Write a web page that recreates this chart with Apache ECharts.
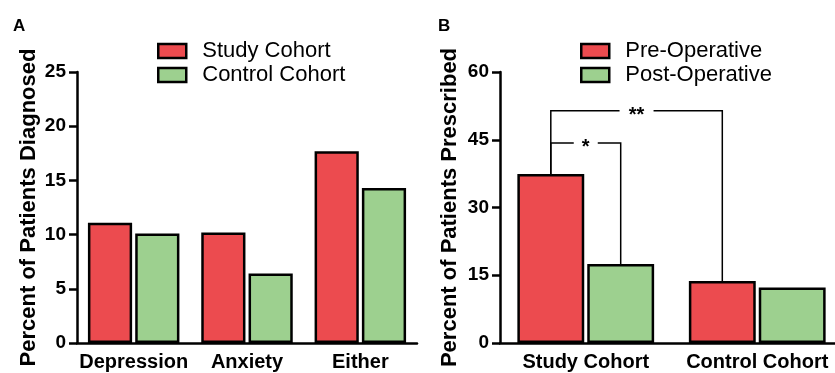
<!DOCTYPE html>
<html>
<head>
<meta charset="utf-8">
<script src="https://cdn.jsdelivr.net/npm/echarts@6/dist/echarts.min.js"></script>
<style>html,body{margin:0;padding:0;background:#fff}#c{width:835px;height:373px}</style>
</head>
<body>
<div id="c"></div>
<script>
const catsA = ['Depression', 'Anxiety', 'Either'];
const studyCohort = [11.1, 10.2, 17.7];
const controlCohort = [10.1, 6.4, 14.3];
const yTicksA = [0, 5, 10, 15, 20, 25];

const catsB = ['Study Cohort', 'Control Cohort'];
const preOperative = [37.4, 13.7];
const postOperative = [17.5, 12.3];
const yTicksB = [0, 15, 30, 45, 60];

// [fromCategory, fromBarSlot, toCategory, toBarSlot, bracketLevel, label]
const bracketsB = [
  [0, 0, 1, 0, 51.4, '**'],
  [0, 0, 0, 1, 44.3, '*']
];

const RED = '#EC4B4F';
const GREEN = '#9DD08F';
const FONT = '"Liberation Sans", Arial, Helvetica, sans-serif';

const barWA = 0.39, gapA = 0.07;
const barWB = 0.39, gapB = 0.045;

const seriesVals = { 0: preOperative, 1: postOperative };

function yAxisCfg(ticks, gridIndex, name, nameGap) {
  return {
    type: 'value', gridIndex: gridIndex,
    min: ticks[0], max: ticks[ticks.length - 1], interval: ticks[1] - ticks[0],
    name: name, nameLocation: 'middle', nameGap: nameGap, nameRotate: 90,
    nameTextStyle: { fontFamily: FONT, fontWeight: 'bold', fontSize: 22, color: '#000' },
    axisLine: { show: true, lineStyle: { color: '#000', width: 2.5 } },
    axisTick: { show: true, length: 8, lineStyle: { color: '#000', width: 2.5 } },
    axisLabel: { fontFamily: FONT, fontWeight: 'bold', fontSize: 19, color: '#000', margin: 11 },
    splitLine: { show: false }
  };
}
function xAxisCfg(cats, gridIndex) {
  return {
    type: 'category', gridIndex: gridIndex, data: cats,
    axisLine: { show: true, lineStyle: { color: '#000', width: 2.5 } },
    axisTick: { show: false },
    axisLabel: { fontFamily: FONT, fontWeight: 'bold', fontSize: 20, color: '#000', margin: 9, interval: 0 },
    splitLine: { show: false }
  };
}
function barSeries(name, data, color, xi, bw, gap) {
  return {
    type: 'bar', name: name, data: data, xAxisIndex: xi, yAxisIndex: xi,
    barWidth: (bw * 100) + '%', barGap: (gap * 100) + '%',
    itemStyle: { color: color, borderColor: '#000', borderWidth: 2.5 },
    emphasis: { disabled: true }, animation: false
  };
}
function legendCfg(names, left) {
  return {
    orient: 'vertical', left: left, top: 40, padding: 0,
    itemWidth: 28, itemHeight: 14, itemGap: 2, icon: 'rect',
    data: names.map(n => ({ name: n, itemStyle: { borderColor: '#000', borderWidth: 2.5 } })),
    textStyle: { fontFamily: FONT, fontSize: 22, color: '#000', lineHeight: 22, padding: [0, 0, 0, 11] },
    selectedMode: false
  };
}

const bracketData = bracketsB.map(b => [b[0], b[1], b[2], b[3], b[4],
  seriesVals[b[1]][b[0]], seriesVals[b[3]][b[2]], b[5]]);

const chart = echarts.init(document.getElementById('c'), null, { renderer: 'canvas' });
chart.setOption({
  animation: false,
  backgroundColor: '#fff',
  grid: [
    { left: 77, top: 72, width: 340, height: 271, outerBoundsMode: 'none', containLabel: false },
    { left: 500, top: 72, width: 343, height: 271, outerBoundsMode: 'none', containLabel: false }
  ],
  title: [
    { text: 'A', left: 13, top: 18, padding: 0, textStyle: { fontFamily: FONT, fontWeight: 'bold', fontSize: 17, color: '#000' } },
    { text: 'B', left: 438, top: 18, padding: 0, textStyle: { fontFamily: FONT, fontWeight: 'bold', fontSize: 17, color: '#000' } }
  ],
  legend: [
    legendCfg(['Study Cohort', 'Control Cohort'], 157),
    legendCfg(['Pre-Operative', 'Post-Operative'], 580)
  ],
  xAxis: [xAxisCfg(catsA, 0), xAxisCfg(catsB, 1)],
  yAxis: [
    yAxisCfg(yTicksA, 0, 'Percent of Patients Diagnosed', 37),
    yAxisCfg(yTicksB, 1, 'Percent of Patients Prescribed', 39)
  ],
  series: [
    barSeries('Study Cohort', studyCohort, RED, 0, barWA, gapA),
    barSeries('Control Cohort', controlCohort, GREEN, 0, barWA, gapA),
    barSeries('Pre-Operative', preOperative, RED, 1, barWB, gapB),
    barSeries('Post-Operative', postOperative, GREEN, 1, barWB, gapB),
    {
      type: 'custom', xAxisIndex: 1, yAxisIndex: 1, silent: true, z: 10,
      data: bracketData,
      encode: { x: 0, y: 4 },
      renderItem: function (params, api) {
        const band = api.size([1, 0])[0];
        const bw = band * barWB, g = bw * gapB;
        const off = slot => (slot === 0 ? -1 : 1) * (bw + g) / 2;
        const c1 = api.value(0), s1 = api.value(1), c2 = api.value(2), s2 = api.value(3);
        const lvl = api.value(4), v1 = api.value(5), v2 = api.value(6);
        const label = bracketData[params.dataIndex][7];
        const pL = api.coord([c1, lvl]);
        const pR = api.coord([c2, lvl]);
        const x1 = pL[0] + off(s1), x2 = pR[0] + off(s2), y = pL[1];
        const y1 = api.coord([c1, v1])[1], y2 = api.coord([c2, v2])[1];
        const xm = (x1 + x2) / 2;
        const half = label.length * 5 + 7;
        const ls = { stroke: '#000', lineWidth: 1.5, fill: null };
        return {
          type: 'group',
          children: [
            { type: 'polyline', shape: { points: [[x1, y1], [x1, y], [xm - half, y]] }, style: ls },
            { type: 'polyline', shape: { points: [[xm + half, y], [x2, y], [x2, y2]] }, style: ls },
            { type: 'text', x: xm, y: y + 5, style: { text: label, fontFamily: FONT, fontWeight: 'bold', fontSize: 20, fill: '#000', align: 'center', verticalAlign: 'middle' } }
          ]
        };
      }
    }
  ]
});
</script>
</body>
</html>
